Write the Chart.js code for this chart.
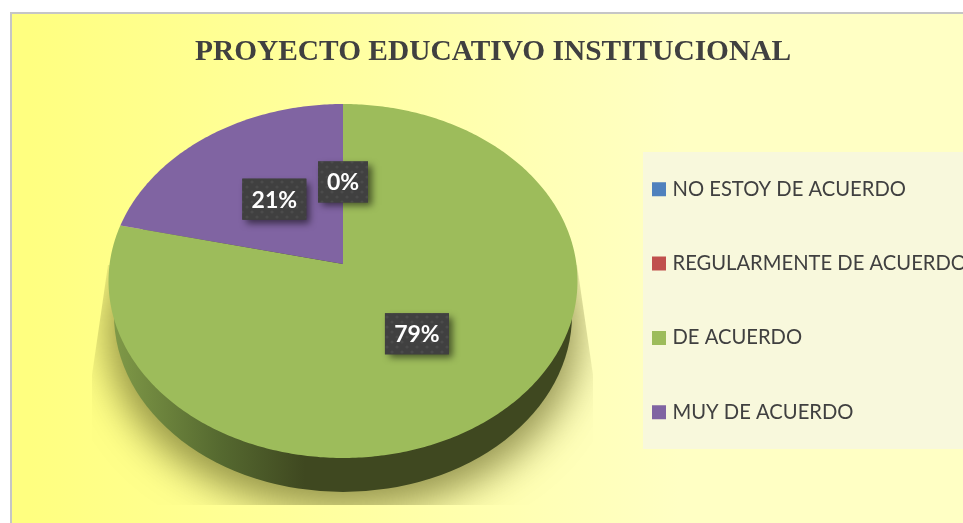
<!DOCTYPE html>
<html><head><meta charset="utf-8">
<style>html,body{margin:0;padding:0;background:#fff;overflow:hidden}#w{position:absolute;left:0;top:0;width:963px;height:523px}</style>
<script src="https://cdn.jsdelivr.net/npm/chart.js@4/dist/chart.umd.js"></script>
</head><body><div id="w"><canvas id="c" width="963" height="523"></canvas></div>
<script>
const chartTitle = 'PROYECTO EDUCATIVO INSTITUCIONAL';
const categories = ['NO ESTOY DE ACUERDO','REGULARMENTE DE ACUERDO','DE ACUERDO','MUY DE ACUERDO'];
const values = [0, 0, 78.6, 21.4];
const sliceColors = ['#4f81bd','#c0504d','#9dbc5b','#8064a2'];

// Perspective of the tilted disc (styling only)
const view = {cx:343, apexY:264, k:-0.096, sy:150, sx:233.4};
function project(u, v){
  const d = 1 + view.k*v;
  return [view.cx + view.sx*u/d, (view.apexY + view.sy*v)/d];
}
function dotPattern(ctx){
  const p = document.createElement('canvas'); p.width = 10; p.height = 10;
  const g = p.getContext('2d');
  g.fillStyle = '#404040'; g.fillRect(0,0,10,10);
  g.fillStyle = '#4b4b4b';
  [[2,2],[7,7]].forEach(([x,y])=>{g.beginPath();g.arc(x,y,1.6,0,Math.PI*2);g.fill();});
  return ctx.createPattern(p,'repeat');
}
const scene = {
  id:'scene',
  beforeDraw(chart){
    const {ctx,width,height} = chart;
    ctx.save();
    ctx.fillStyle = '#fff'; ctx.fillRect(0,0,width,height);
    const g = ctx.createLinearGradient(30,0,680,0);
    g.addColorStop(0,'#ffff80'); g.addColorStop(1,'#ffffc4');
    ctx.fillStyle = g; ctx.fillRect(11,13,width-11,height-13);
    ctx.fillStyle = '#c6c6c6';
    ctx.fillRect(10,12,width-10,2); ctx.fillRect(10,12,2,height-12);
    ctx.fillStyle = '#f8f8dc'; ctx.fillRect(643,152,320,297);
    ctx.restore();
  },
  afterLayout(chart){
    const l = chart.legend;
    l.left = 655.6-54.1; l.right = 1400; l.top = 179.2-54.1; l.bottom = 1000;
    const t = chart.titleBlock;
    if (t){ t.left = 23; t.right = 963; t.top = 35; t.bottom = 69; }
  },
  beforeDatasetsDraw(chart){
    const {ctx} = chart;
    const arcs = chart.getDatasetMeta(0).data;
    // soft cast shadow (only the blurred shadow is painted)
    ctx.save();
    ctx.beginPath();
    ctx.moveTo(108,265); ctx.lineTo(577,265); ctx.lineTo(593,375); ctx.lineTo(593,505);
    ctx.lineTo(92,505); ctx.lineTo(92,375); ctx.closePath(); ctx.clip();
    ctx.shadowColor = 'rgba(85,85,25,0.62)'; ctx.shadowBlur = 38; ctx.shadowOffsetX = 2000;
    ctx.fillStyle = '#000';
    ctx.beginPath(); ctx.ellipse(343-2000,332,236,178,0,0,Math.PI*2); ctx.fill();
    ctx.restore();
    // side wall
    ctx.save();
    const s = ctx.createLinearGradient(112,0,305,0);
    s.addColorStop(0,'#809a48'); s.addColorStop(0.55,'#566a30'); s.addColorStop(1,'#3f4820');
    ctx.fillStyle = s;
    ctx.beginPath(); ctx.ellipse(343,315,229,177,0,0,Math.PI*2); ctx.fill();
    ctx.restore();
    // slices, each read from the library's arc element
    const labels = [];
    const seen = new Set();
    arcs.forEach((el,i)=>{
      const p = el.getProps(['startAngle','endAngle','circumference'],true);
      const pct = Math.round(values[i]) + '%';
      const mid = (p.startAngle+p.endAngle)/2;
      if (!seen.has(pct)){ seen.add(pct); labels.push({pct, pos:project(0.49*Math.cos(mid),0.49*Math.sin(mid))}); }
      if (p.endAngle-p.startAngle <= 0) return;
      const steps = Math.max(8,Math.ceil((p.endAngle-p.startAngle)*80));
      ctx.beginPath();
      if (p.endAngle-p.startAngle < Math.PI*1.99) ctx.moveTo(...project(0,0));
      for(let n=0;n<=steps;n++){
        const a = p.startAngle + (p.endAngle-p.startAngle)*n/steps;
        ctx.lineTo(...project(Math.cos(a),Math.sin(a)));
      }
      ctx.closePath();
      ctx.fillStyle = sliceColors[i];
      ctx.fill();
    });
    // data labels
    const pat = dotPattern(ctx);
    ctx.save();
    ctx.font = 'bold 23px Lato';
    ctx.textAlign = 'center'; ctx.textBaseline = 'middle';
    labels.forEach(({pct,pos})=>{
      const w = Math.round(ctx.measureText(pct).width)+18, h = 41;
      ctx.save();
      ctx.shadowColor = 'rgba(0,0,0,0.55)'; ctx.shadowBlur = 7; ctx.shadowOffsetX = 4; ctx.shadowOffsetY = 4;
      ctx.fillStyle = '#404040';
      ctx.fillRect(pos[0]-w/2,pos[1]-h/2,w,h);
      ctx.restore();
      ctx.fillStyle = pat;
      ctx.fillRect(pos[0]-w/2,pos[1]-h/2,w,h);
      ctx.fillStyle = '#fff';
      ctx.fillText(pct,pos[0],pos[1]+1);
    });
    ctx.restore();
    return false;
  }
};
new Chart(document.getElementById('c'),{
  type:'pie',
  data:{labels:categories,datasets:[{data:values,backgroundColor:sliceColors,borderWidth:0}]},
  plugins:[scene],
  options:{
    responsive:false,animation:false,
    plugins:{
      tooltip:{enabled:false},
      title:{display:true,text:chartTitle,color:'#404040',font:{family:'Liberation Serif',size:29.4,weight:'bold'},padding:0},
      legend:{display:true,position:'right',align:'start',
        labels:{usePointStyle:true,pointStyle:'rect',boxWidth:6.8,boxHeight:14,padding:54.1,color:'#404040',font:{family:'Lato',size:20.2}}}
    }
  }
});
</script></body></html>
